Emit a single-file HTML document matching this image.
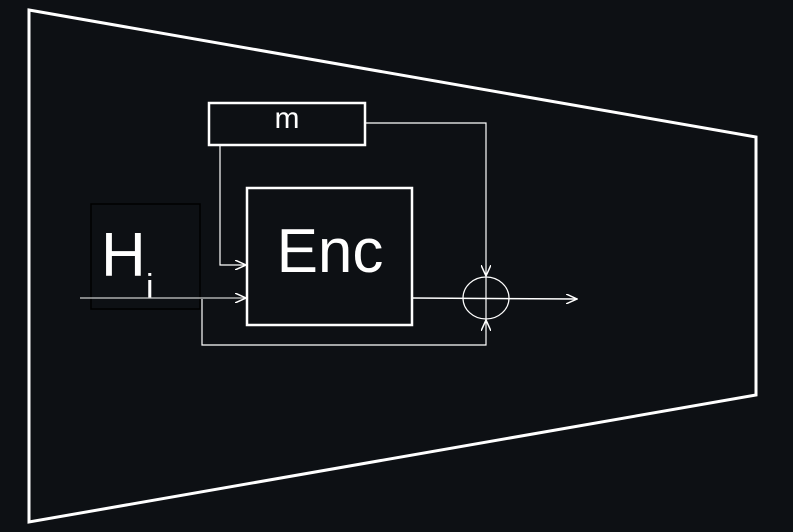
<!DOCTYPE html>
<html><head><meta charset="utf-8"><style>
html,body{margin:0;padding:0;background:#0d1014;}
svg{display:block;}
text{font-family:"Liberation Sans",sans-serif;fill:#fff;}
</style></head><body>
<svg width="793" height="532" viewBox="0 0 793 532">
<defs><marker id="ar" markerWidth="12" markerHeight="10" refX="11" refY="5" orient="auto" markerUnits="userSpaceOnUse"><path d="M0,0 L11,5 L0,10" fill="none" stroke="#fff" stroke-width="1.5"/></marker></defs>
<polygon points="29,10 756,137 756,395 29,522" fill="none" stroke="#fff" stroke-width="3"/>
<rect x="91" y="204" width="109" height="105" fill="none" stroke="#000" stroke-width="1.5"/>
<text x="101" y="276" font-size="62">H</text>
<text x="146" y="298" font-size="34">i</text>
<line x1="80" y1="298" x2="246" y2="298" stroke="#ccc" stroke-width="1.2" marker-end="url(#ar)"/>
<rect x="209" y="103" width="156" height="42" fill="none" stroke="#fff" stroke-width="2.5"/>
<text x="287" y="128" font-size="30" text-anchor="middle">m</text>
<rect x="247" y="188" width="165" height="137" fill="none" stroke="#fff" stroke-width="2.5"/>
<text x="330" y="272" font-size="62" text-anchor="middle">Enc</text>
<polyline points="220,145 220,265 246,265" fill="none" stroke="#fff" stroke-width="1.2" marker-end="url(#ar)"/>
<polyline points="365,123 486,123 486,276" fill="none" stroke="#fff" stroke-width="1.2" marker-end="url(#ar)"/>
<polyline points="202,299 202,345 486,345 486,320" fill="none" stroke="#fff" stroke-width="1.2" marker-end="url(#ar)"/>
<line x1="412" y1="298" x2="577" y2="299" stroke="#fff" stroke-width="1.5" marker-end="url(#ar)"/>
<ellipse cx="486" cy="298" rx="23" ry="21" fill="none" stroke="#fff" stroke-width="1.2"/>
<line x1="486" y1="277" x2="486" y2="319" stroke="#fff" stroke-width="1.2"/>
</svg>
</body></html>
